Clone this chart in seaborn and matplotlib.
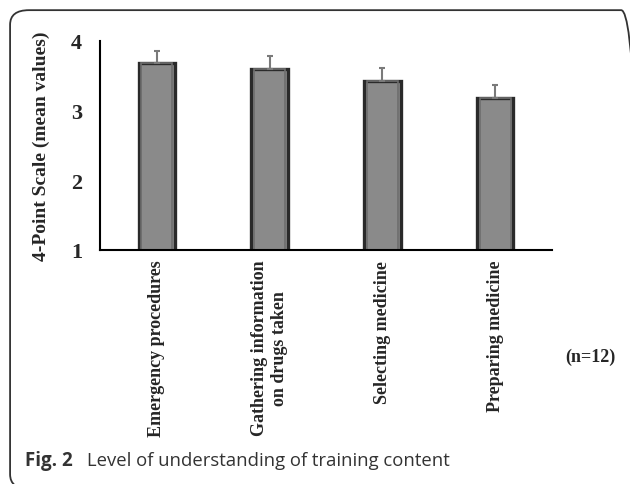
import matplotlib
matplotlib.use("Agg")
import matplotlib.pyplot as plt
from matplotlib.patches import FancyBboxPatch
import numpy as np
import pandas as pd
import seaborn as sns

categories = ["Emergency procedures", "Gathering information\non drugs taken",
              "Selecting medicine", "Preparing medicine"]
means = [3.68, 3.60, 3.43, 3.18]
errors = [0.18, 0.18, 0.18, 0.19]
y_ticks = [1, 2, 3, 4]

sns.set_theme(style="white")
plt.rcParams['font.family'] = ['Liberation Serif', 'DejaVu Serif']

df = pd.DataFrame({"content": categories, "mean": means})

fig = plt.figure(figsize=(6.3, 4.85), dpi=100)
ax = fig.add_axes([0.159, 0.4825, 0.717, 0.431])

sns.barplot(data=df, x="content", y="mean", color="#8a8a8a", width=0.32,
            edgecolor="#2a2a2a", linewidth=2.4, saturation=1, errorbar=None, ax=ax)
# soft inner rim to hint at the bevelled bars
sns.barplot(data=df, x="content", y="mean", color="none", width=0.27,
            edgecolor="#6e6e6e", linewidth=1.2, saturation=1, errorbar=None, ax=ax)
ax.errorbar(np.arange(len(means)), means, yerr=[np.zeros(len(errors)), errors],
            fmt="none", ecolor="#7a7a7a", elinewidth=1.5, capsize=2.5, capthick=1.5)

ax.set_ylim(1, 4)
ax.set_xlim(-0.5, 3.5)
ax.set_yticks(y_ticks)
ax.set_yticklabels([str(t) for t in y_ticks], fontsize=16, fontweight="bold")
ax.tick_params(axis="y", direction="in", length=5, width=1.2, color="black", pad=13)
ax.tick_params(axis="x", length=0, pad=7)
ax.set_xticks(np.arange(len(categories)))
ax.set_xticklabels(categories, rotation=90, fontsize=13, fontweight="bold",
                   va="top", ha="center", multialignment="center")
ax.set_xlabel("")
ax.set_ylabel("4-Point Scale (mean values)", fontsize=14, fontweight="bold")
ax.yaxis.set_label_coords(-0.112, 0.5)
for s in ["top", "right"]:
    ax.spines[s].set_visible(False)
for s in ["left", "bottom"]:
    ax.spines[s].set_color("black")
    ax.spines[s].set_linewidth(1.5)

fig.text(0.937, 0.263, "(n=12)", fontsize=13, fontweight="bold", ha="center", va="center")

frame = FancyBboxPatch((0.016, -0.01), 1.0, 0.987, boxstyle="round,pad=0,rounding_size=0.03",
                       transform=fig.transFigure, fill=False, edgecolor="#333333",
                       linewidth=1.3, clip_on=False)
fig.patches.append(frame)

fig.text(0.04, 0.04, "Fig. 2", fontsize=13.5, fontweight="bold", color="#333333",
         family=["Open Sans", "DejaVu Sans"], va="baseline")
fig.text(0.138, 0.04, "Level of understanding of training content", fontsize=13.3,
         color="#333333", family=["Open Sans", "DejaVu Sans"], va="baseline")

fig.savefig("out.png", dpi=100)
